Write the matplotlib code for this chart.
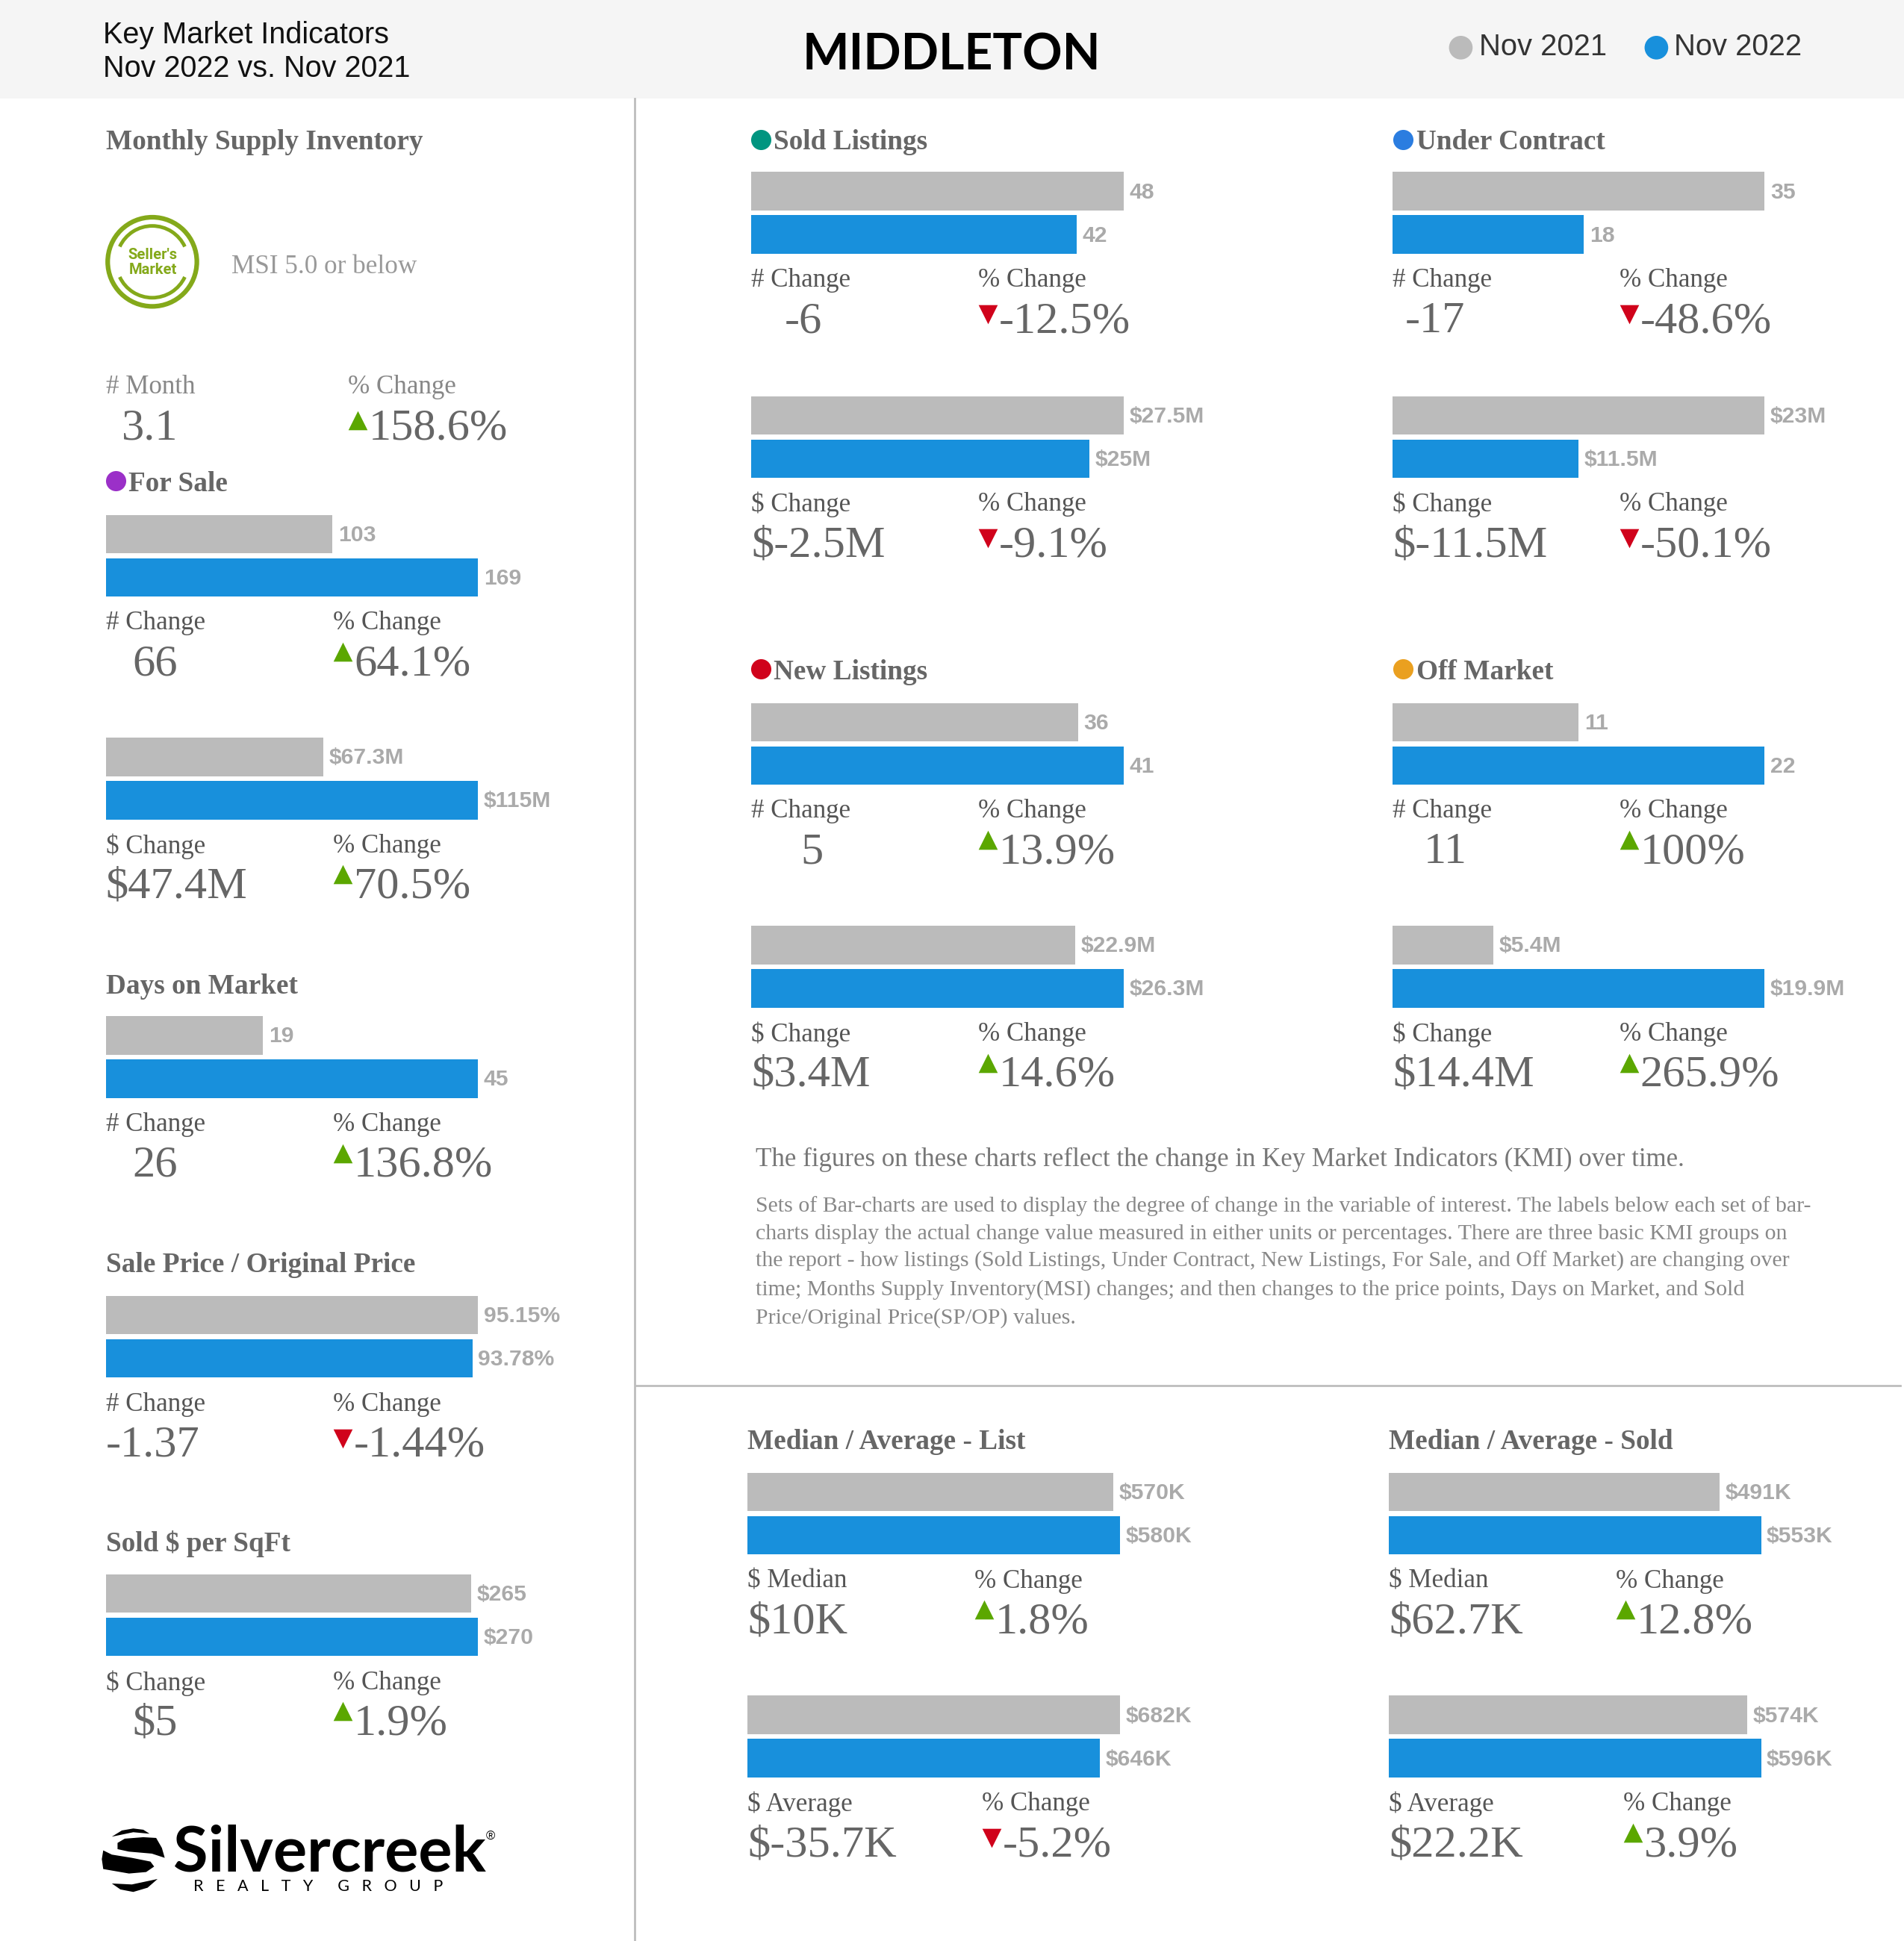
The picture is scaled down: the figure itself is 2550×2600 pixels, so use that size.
import matplotlib
matplotlib.use('Agg')
import matplotlib.pyplot as plt
from matplotlib.patches import Rectangle, Arc, Ellipse

SERIF = 'Liberation Serif'
SANS = 'Liberation Sans'
GREY = '#bbbbbb'
BLUE = '#1890dc'
S = 2550 / 1538  # layout below is measured on the shrunk picture

# values: (Nov 2021, Nov 2022)
for_sale_count = [103, 169]
for_sale_dollar = [67.3, 115]
days_on_market = [19, 45]
sale_original = [95.15, 93.78]
sold_sqft = [265, 270]
sold_count = [48, 42]
sold_dollar = [27.5, 25]
contract_count = [35, 18]
contract_dollar = [23, 11.5]
new_count = [36, 41]
new_dollar = [22.9, 26.3]
off_count = [11, 22]
off_dollar = [5.4, 19.9]
list_median = [570, 580]
list_average = [682, 646]
sale_median = [491, 553]
sale_average = [574, 596]

for_sale_count_lab = ['103', '169']
for_sale_dollar_lab = ['$67.3M', '$115M']
days_on_market_lab = ['19', '45']
sale_original_lab = ['95.15%', '93.78%']
sold_sqft_lab = ['$265', '$270']
sold_count_lab = ['48', '42']
sold_dollar_lab = ['$27.5M', '$25M']
contract_count_lab = ['35', '18']
contract_dollar_lab = ['$23M', '$11.5M']
new_count_lab = ['36', '41']
new_dollar_lab = ['$22.9M', '$26.3M']
off_count_lab = ['11', '22']
off_dollar_lab = ['$5.4M', '$19.9M']
list_median_lab = ['$570K', '$580K']
list_average_lab = ['$682K', '$646K']
sale_median_lab = ['$491K', '$553K']
sale_average_lab = ['$574K', '$596K']

# left x, top y, % column x, x of the change value
# then values, bar labels, change caption, change, % change
panels = [
    (85.5, 416, 269, 107, for_sale_count, for_sale_count_lab, '# Change', '66', '64.1%'),
    (85.5, 596, 269, 85.5, for_sale_dollar, for_sale_dollar_lab, '$ Change', '$47.4M', '70.5%'),
    (85.5, 821, 269, 107, days_on_market, days_on_market_lab, '# Change', '26', '136.8%'),
    (85.5, 1047, 269, 85.5, sale_original, sale_original_lab, '# Change', '-1.37', '-1.44%'),
    (85.5, 1272, 269, 107, sold_sqft, sold_sqft_lab, '$ Change', '$5', '1.9%'),
    (607, 139, 790, 634, sold_count, sold_count_lab, '# Change', '-6', '-12.5%'),
    (607, 320, 790, 607, sold_dollar, sold_dollar_lab, '$ Change', '$-2.5M', '-9.1%'),
    (1125, 139, 1308, 1135, contract_count, contract_count_lab, '# Change', '-17', '-48.6%'),
    (1125, 320, 1308, 1125, contract_dollar, contract_dollar_lab, '$ Change', '$-11.5M', '-50.1%'),
    (607, 568, 790, 647, new_count, new_count_lab, '# Change', '5', '13.9%'),
    (607, 748, 790, 607, new_dollar, new_dollar_lab, '$ Change', '$3.4M', '14.6%'),
    (1125, 568, 1308, 1150, off_count, off_count_lab, '# Change', '11', '100%'),
    (1125, 748, 1308, 1125, off_dollar, off_dollar_lab, '$ Change', '$14.4M', '265.9%'),
    (604, 1190, 787, 604, list_median, list_median_lab, '$ Median', '$10K', '1.8%'),
    (604, 1370, 793, 604, list_average, list_average_lab, '$ Average', '$-35.7K', '-5.2%'),
    (1122, 1190, 1305, 1122, sale_median, sale_median_lab, '$ Median', '$62.7K', '12.8%'),
    (1122, 1370, 1311, 1122, sale_average, sale_average_lab, '$ Average', '$22.2K', '3.9%'),
]

headings = [
    ('Monthly Supply Inventory', 85.5, 113, None),
    ('For Sale', 104, 389, '#9b30c8'),
    ('Days on Market', 85.5, 795, None),
    ('Sale Price / Original Price', 85.5, 1020, None),
    ('Sold $ per SqFt', 85.5, 1245, None),
    ('Sold Listings', 625, 113, '#009580'),
    ('Under Contract', 1144, 113, '#2b7de0'),
    ('New Listings', 625, 541, '#d0021b'),
    ('Off Market', 1144, 541, '#eaa020'),
    ('Median / Average - List', 604, 1163, None),
    ('Median / Average - Sold', 1122, 1163, None),
]

paragraph = [
    'Sets of Bar-charts are used to display the degree of change in the variable of interest. The labels below each set of bar-',
    'charts display the actual change value measured in either units or percentages. There are three basic KMI groups on',
    'the report - how listings (Sold Listings, Under Contract, New Listings, For Sale, and Off Market) are changing over',
    'time; Months Supply Inventory(MSI) changes; and then changes to the price points, Days on Market, and Sold',
    'Price/Original Price(SP/OP) values.',
]

fig = plt.figure(figsize=(25.5, 26), dpi=100, facecolor='white')
W, H = 2550, 2600

# overlay in shrunk-picture coordinates for everything that isn't a bar
bg = fig.add_axes([0, 0, 1, 1])
bg.set_xlim(0, 1538)
bg.set_ylim(1568, 0)
bg.axis('off')


def txt(x, y, s, size, color='#666666', family=SERIF, weight='normal', ha='left', va='center', **kw):
    bg.text(x, y, s, fontsize=size, color=color, family=family, weight=weight, ha=ha, va=va, **kw)


def arrow(x, y, up):
    bg.scatter([x], [y], marker='^' if up else 'v', s=340, color='#5ba700' if up else '#d0021b',
               linewidths=0, zorder=3)


def panel(x0, top, pct_x, val_x, vals, labs, cap, change, pct):
    # each panel: longest bar fills the axes width
    ax = fig.add_axes([x0 * S / W, 1 - (top + 66) * S / H, 300.5 * S / W, 66 * S / H])
    ax.barh([1, 0], vals, height=0.886, color=[GREY, BLUE])
    ax.set_xlim(0, max(vals))
    ax.set_ylim(-0.443, 1.443)
    ax.axis('off')
    for i, v in enumerate(vals):
        ax.annotate(labs[i], (v, 1 - i), xytext=(5.5, -1), textcoords='offset points',
                    va='center', ha='left', fontsize=21.7, color='#aaaaaa', family=SANS,
                    weight='bold', annotation_clip=False)
    txt(x0, top + 87.5, cap, 25.2, '#555555')
    txt(pct_x, top + 87.5, '% Change', 25.2, '#555555')
    txt(val_x, top + 121, change, 43.5)
    up = not pct.startswith('-')
    arrow(pct_x + 8, top + (110.5 if up else 115), up)
    txt(pct_x + 17, top + 121, pct, 43.5)


def logo_part(points):
    # logo shapes, measured on a crop of the logo
    bg.fill([60.3 + p[0] * 0.231 for p in points], [1435.5 + p[1] * 0.201 for p in points],
            color='black', lw=0)


# header band and rules
bg.add_patch(Rectangle((0, 0), 1538, 79.5, color='#f5f5f5', lw=0))
bg.plot([512.7, 512.7], [79.5, 1568], color='#bdbdbd', lw=2)
bg.plot([513, 1535], [1119.6, 1119.6], color='#bdbdbd', lw=2)

txt(83, 28.5, 'Key Market Indicators', 28.5, '#111111', SANS)
txt(83, 55.5, 'Nov 2022 vs. Nov 2021', 28.5, '#111111', SANS)
txt(768.5, 45, 'MIDDLETON', 47.6, '#000000', 'Lato', 'bold', ha='center')
bg.scatter([1180, 1338], [38.5, 38.5], s=520, color=[GREY, BLUE], linewidths=0)
txt(1195, 38, 'Nov 2021', 28.8, '#333333', SANS)
txt(1352, 38, 'Nov 2022', 28.8, '#333333', SANS)

for name, x, y, dot in headings:
    txt(x, y + 2, name, 26.8, '#666666', SERIF, 'bold')
    if dot:
        bg.scatter([x - 10.5], [y - 0.5], s=380, color=dot, linewidths=0)

for p in panels:
    panel(*p)

# monthly supply block
c = '#84a91a'
bg.add_patch(Ellipse((123, 211.5), 72, 72, fc='none', ec=c, lw=4.5))
bg.add_patch(Arc((123, 211.5), 58, 58, theta1=205, theta2=335, ec=c, lw=3.5))
bg.add_patch(Arc((123, 211.5), 58, 58, theta1=25, theta2=155, ec=c, lw=3.5))
txt(123.5, 206, "Seller's", 14.5, c, 'Roboto', 'bold', ha='center')
txt(123.5, 218, 'Market', 14.5, c, 'Roboto', 'bold', ha='center')
txt(187, 215.5, 'MSI 5.0 or below', 25.3, '#999999')
txt(85.5, 312.5, '# Month', 25.2, '#888888')
txt(281, 312.5, '% Change', 25.2, '#888888')
txt(98, 346.5, '3.1', 43.5)
arrow(289, 339.5, True)
txt(298, 346.5, '158.6%', 43.5)

# note text
txt(610.5, 936.5, 'The figures on these charts reflect the change in Key Market Indicators (KMI) over time.',
    25.1, '#777777')
for y, line in zip([974, 997, 1019, 1042, 1065], paragraph):
    txt(610.5, y, line, 21.5, '#888888')

# logo
logo_part([(130, 240), (165, 215), (205, 207), (240, 212), (262, 228), (205, 222)])
logo_part([(150, 265), (175, 248), (240, 242), (285, 245), (305, 285), (315, 325), (270, 308), (190, 300), (150, 290)])
logo_part([(100, 295), (130, 312), (200, 325), (265, 340), (278, 360), (250, 382), (190, 388), (100, 370), (95, 330)])
logo_part([(130, 428), (200, 432), (290, 410), (255, 445), (205, 462), (160, 452)])
txt(140, 1497, 'Silvercreek', 61, '#000000', 'Lato', 'bold')
txt(396, 1484, '®', 12, '#000000', SANS, ha='center')
txt(156, 1524, 'R   E   A   L   T   Y      G   R   O   U   P', 15.5, '#000000', 'Lato')

fig.savefig('out.png', dpi=100, facecolor='white')
